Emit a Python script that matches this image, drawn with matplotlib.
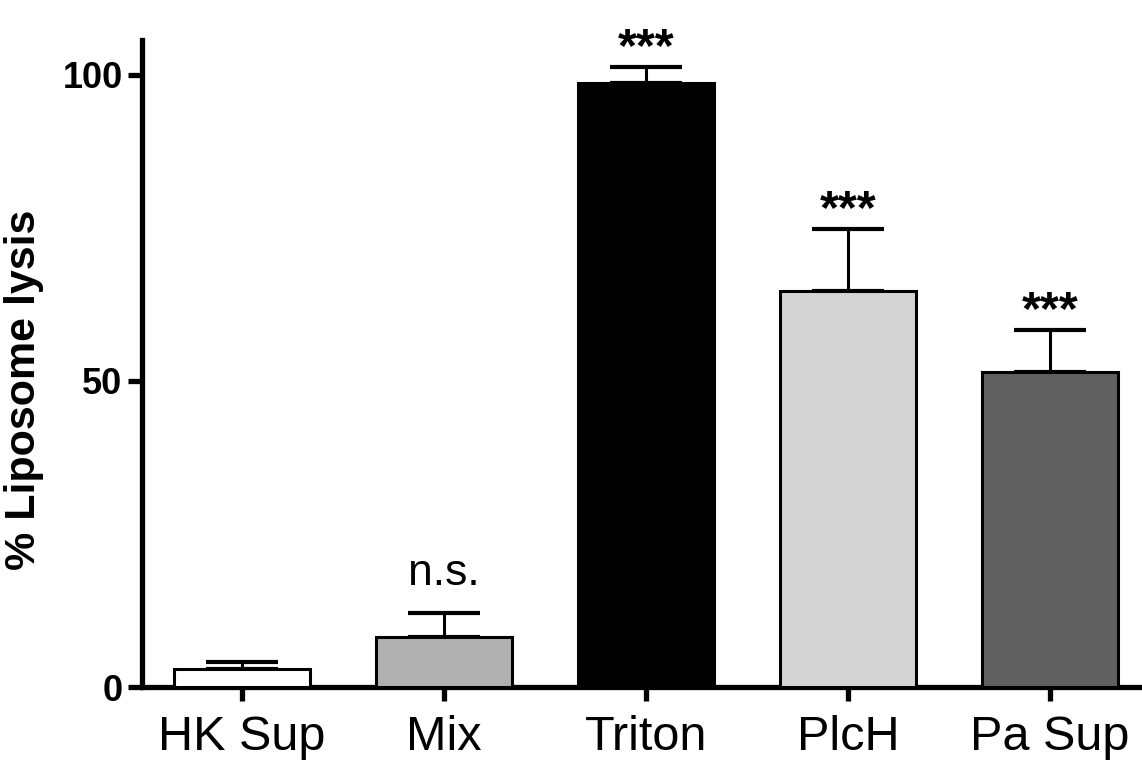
import numpy as np
import matplotlib.pyplot as plt

plt.rcParams['font.family'] = ['Liberation Sans', 'DejaVu Sans']

# data
groups = ["HK Sup", "Mix", "Triton", "PlcH", "Pa Sup"]
lysis = [2.9, 8.2, 98.6, 64.7, 51.5]
sem = [1.2, 3.9, 2.7, 10.2, 6.9]
marks = ["", "n.s.", "***", "***", "***"]
colors = ["#ffffff", "#b0b0b0", "#000000", "#d4d4d4", "#606060"]

fig = plt.figure(figsize=(11.42, 7.63), dpi=100)
ax = fig.add_axes([0.1243, 0.0996, 0.8757, 0.848])

x = np.arange(len(groups))
ax.bar(x, lysis, width=0.67, color=colors, edgecolor="black", linewidth=2.2, zorder=3)
ax.errorbar(x, lysis, yerr=[np.zeros(len(sem)), sem], fmt="none", ecolor="black",
            elinewidth=2.2, capsize=26, capthick=3, zorder=2)

# significance marks above the error bars
for xi, yi, e, m in zip(x, lysis, sem, marks):
    if m == "***":
        ax.text(xi, yi + e + 0.9, m, ha="center", va="baseline", fontsize=35, fontweight="bold")
    elif m:
        ax.text(xi, yi + e + 4.6, m, ha="center", va="baseline", fontsize=32)

ax.set_xlim(-0.495, 4.455)
ax.set_ylim(0, 105.7)
ax.set_yticks([0, 50, 100])
ax.set_xticks(x)
ax.set_xticklabels(groups, fontsize=35)
for lab in ax.get_yticklabels():
    lab.set_fontsize(26)
    lab.set_fontweight("bold")
ax.set_ylabel("% Liposome lysis", fontsize=31, fontweight="bold")
ax.yaxis.set_label_coords(-0.098, 0.46)

for s in ["top", "right"]:
    ax.spines[s].set_visible(False)
for s in ["left", "bottom"]:
    ax.spines[s].set_linewidth(3.8)
ax.tick_params(axis="both", direction="out", length=10, width=3.8)
ax.tick_params(axis="x", pad=10)
ax.tick_params(axis="y", pad=4)

fig.savefig("out.png", dpi=100)
